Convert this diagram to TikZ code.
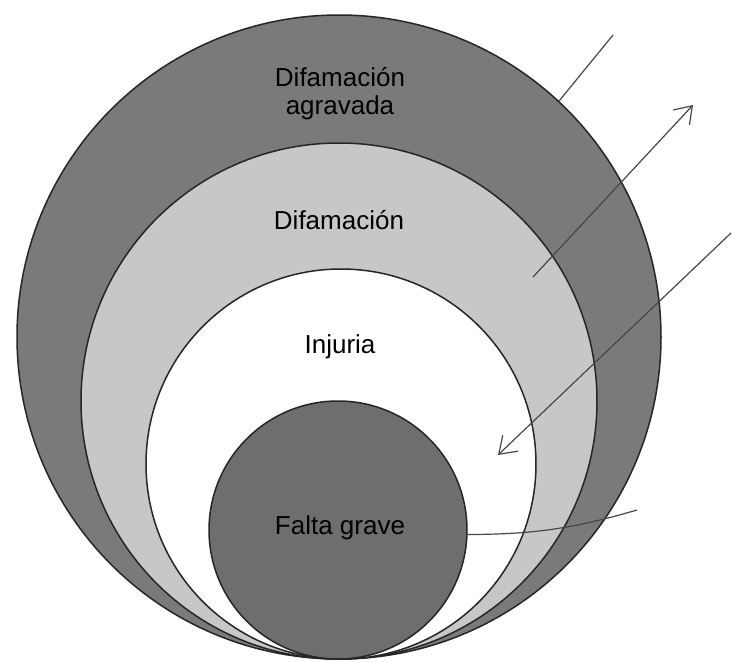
\documentclass[tikz,border=0pt]{standalone}
\usepackage{fontspec}
\setmainfont{Liberation Sans}
\usetikzlibrary{arrows.meta}
\begin{document}
\begin{tikzpicture}[x=1pt,y=-1pt,
  ring/.style={circle,draw=black!85,line width=1.5pt,inner sep=0pt},
  lbl/.style={text=black,font=\fontsize{26}{28}\selectfont,align=center,inner sep=1pt},
  pointer/.style={draw=black!72,line width=1.2pt},
  tip/.style={-{Straight Barb[length=16pt,width=22pt,line width=1.2pt]}}]
\useasboundingbox (0,0) rectangle (732,662);
\fill[white] (0,0) rectangle (732,662);
\node[ring,fill=black!52,minimum size=644pt] (c1) at (339,337) {};
\node[ring,fill=black!22,minimum size=516pt] (c2) at (339,401) {};
\node[ring,fill=white,minimum size=390pt] (c3) at (341,464) {};
\node[ring,fill=black!57,minimum size=258pt] (c4) at (338,530) {};
\node[lbl] (t1) at (340,94) {Difamación\\agravada};
\node[lbl] (t2) at (339,220) {Difamación};
\node[lbl] (t3) at (340,347) {Injuria};
\node[lbl] (t4) at (340,528) {Falta grave};
\coordinate (e1) at (613,35);
\coordinate (s2) at (533,277);
\coordinate (e2) at (693,105);
\coordinate (s3) at (731,233);
\coordinate (e3) at (498,455);
\coordinate (e4) at (637,510);
\draw[pointer] (c1.47.7) -- (e1);
\draw[pointer,tip] (s2) -- (e2);
\draw[pointer,tip] (s3) -- (e3);
\draw[pointer] (c4.-2) to[bend right=8] (e4);
\end{tikzpicture}
\end{document}
